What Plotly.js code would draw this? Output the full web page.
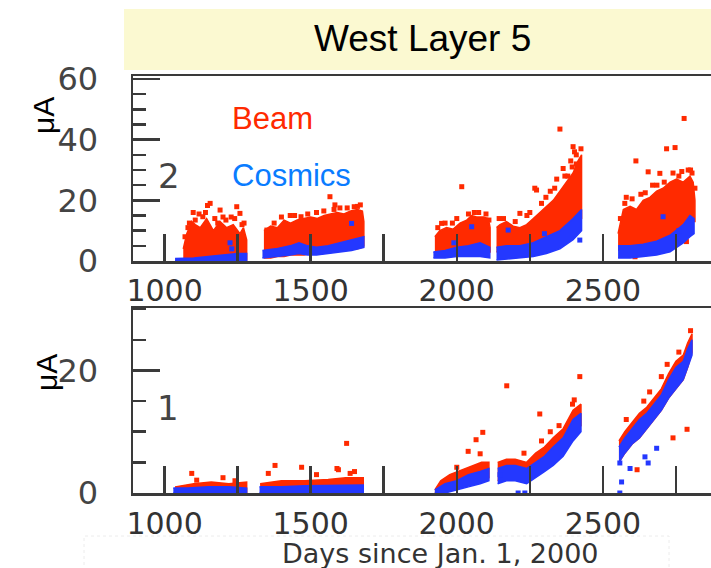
<!DOCTYPE html>
<html><head><meta charset="utf-8">
<script src="https://cdn.plot.ly/plotly-3.0.1.min.js"></script>
<style>html,body{margin:0;padding:0;background:#fff}#chart{width:711px;height:568px}</style>
</head><body><div id="chart"></div>
<script>
// ---------- axis ticks ----------
const xTickVals = [1000,1250,1500,1750,2000,2250,2500,2750];
const xTickText = ['1000','','1500','','2000','','2500',''];

// ---------- panel 2 (top) : Beam dense bands ----------
const p2BeamA_day = [1064,1076,1093,1105,1122,1144,1167,1190,1212,1235,1258,1270,1281];
const p2BeamA_hi  = [4,9,13,12,11,14,10,13,11,12,9,11,7];
const p2BeamA_lo  = [0.3,0.3,0.3,0.3,0.3,0.3,0.3,0.3,0.3,0.3,0.3,0.3,0.3];
const p2BeamB_day = [1340,1363,1386,1409,1431,1454,1477,1500,1523,1546,1568,1591,1614,1637,1660,1677,1682];
const p2BeamB_hi  = [10,11.5,11,13.5,12.5,13.5,14,14.5,14,15,15.5,16,15.5,16.5,17,16.5,13];
const p2BeamB_lo  = [1,1,1.5,1.5,2,2,2,2.5,2.5,3,3,3.5,3.5,4,4,4.5,5];
const p2BeamC_day = [1925,1942,1965,1988,2011,2034,2051,2068,2091,2108,2114];
const p2BeamC_hi  = [8,10,11,10.5,12.5,13.5,15,14.5,14.5,14,11];
const p2BeamC_lo  = [2.5,2.5,2.5,2.5,3,3,3,3,3,3,3];
const p2BeamD_day = [2136,2148,2170,2193,2216,2239,2262,2284,2307,2330,2353,2375,2398,2415,2427];
const p2BeamD_hi  = [11,12,13,11.5,11,12,14,16,18,20,23,26,29,33,35];
const p2BeamD_lo  = [3,3,3,3,3.5,4,4.5,5,5.5,6,7,8,10,12,14];
const p2BeamE_day = [2552,2570,2593,2615,2638,2661,2684,2706,2730,2752,2775,2798,2809,2815];
const p2BeamE_hi  = [9,17,18,17,20,21,23,24,26,27,26,28,26,20];
const p2BeamE_lo  = [3.5,4,4.5,5,5,5.5,6,7,8,9,10.5,12,13,13];
// Beam scattered points (top)
const p2BeamPts_day = [1156,1147,1247,1131,1105,1190,1258,1080,1118,1172,1210,1228,1272,1098,1070,1085,1140,1182,1200,1240,1265,
  1566,1583,1467,1649,1350,1400,1430,1520,1600,1670,1625,1375,1445,1490,1545,1580,1660,
  2017,1948,2000,2040,2075,2100,1935,1960,1985,2060,2110,
  2398,2403,2409,2364,2342,2273,2267,2216,2409,2353,2420,2390,2320,2290,2250,2160,2380,2200,2240,2305,2335,2370,2395,2425,2145,
  2613,2655,2695,2718,2747,2778,2792,2786,2610,2580,2630,2670,2740,2770,2805,2600,2560,2575,2645,2685,2710,2760,2800,2815];
const p2BeamPts_val = [19,18.3,17.9,14.6,13.5,16.8,15.7,11,15.5,14,13.5,14.5,12.5,16,8,12.5,16,12.5,14.5,14,12,
  21.2,18.5,14.6,17.9,10.2,14.5,15,16,17.5,18.5,17.5,12.5,15,15.5,16.5,17,18,
  24.5,12.4,14,15.5,16,15.5,11,12.5,12.5,16,13.5,
  37.7,36,35,30.5,27,23.4,24,15.7,32,43.5,30,33,23,19,16,14,28,13,15,21,24,28,31,37,14,
  33,29.4,28.9,37,37.4,47,30,6.4,1.4,21,22,25,29,29.5,29,20.5,14,19,22.5,25,26,28,30,24];

// ---------- panel 2 (top) : Cosmics dense bands ----------
const p2CosA_day = [1036,1100,1150,1200,1250,1281];
const p2CosA_hi  = [0.8,1,1.5,2,2.5,2.5];
const p2CosA_lo  = [0,0,0,0,0,0];
const p2CosB_day = [1335,1380,1430,1460,1490,1520,1560,1600,1640,1682];
const p2CosB_hi  = [3.5,4,5,6,5,4.5,5,6,7,8];
const p2CosB_lo  = [1,1.5,2,2.5,2,2,2.5,3,3.5,4.5];
const p2CosC_day = [1920,1960,2000,2040,2080,2113];
const p2CosC_hi  = [3,3.5,4.5,5,6,4.5];
const p2CosC_lo  = [1,1,1.5,1.5,1.5,1];
const p2CosD_day = [2136,2170,2216,2262,2307,2353,2398,2427];
const p2CosD_hi  = [4.5,5,5,6,8,10,14,17];
const p2CosD_lo  = [0.3,0.5,1,1.5,2.5,4,7,10];
const p2CosE_day = [2552,2593,2638,2684,2730,2775,2798,2812];
const p2CosE_hi  = [5,5,5.5,6.5,8.5,12,15,14];
const p2CosE_lo  = [1,1,1.5,2,3,6,8,9];
const p2CosPts_day = [1224,2051,2176,2421,2706,1640,1230,2760,2300,1990];
const p2CosPts_val = [6,11.3,10.2,6.9,14.6,12.4,4,10,9,6];

// ---------- panel 1 (bottom) : Beam dense bands ----------
const p1BeamA_day = [1036,1100,1160,1220,1281];
const p1BeamA_hi  = [1,1.5,1.8,1.5,1.8];
const p1BeamA_lo  = [0,0,0,0,0];
const p1BeamB_day = [1327,1400,1480,1560,1620,1680];
const p1BeamB_hi  = [1.5,2,2,2.2,2.5,2.5];
const p1BeamB_lo  = [0,0,0,0,0,0];
const p1BeamC_day = [1925,1945,1976,2005,2034,2060,2085,2110];
const p1BeamC_hi  = [0.5,2,3,3.5,4,4.5,5,5];
const p1BeamC_lo  = [0,0,0.5,1,1.5,2,2,2.5];
const p1BeamD_day = [2140,2170,2200,2239,2270,2300,2330,2364,2398,2425];
const p1BeamD_hi  = [5,5.5,5.5,5,6.5,7.5,9,10.5,13.5,14.5];
const p1BeamD_lo  = [2,2.5,2.5,2,3,4,5,7,9.5,11];
const p1BeamE_day = [2555,2575,2600,2625,2650,2675,2700,2725,2750,2775,2790,2805];
const p1BeamE_hi  = [8.5,10,11.5,13,14,15.5,17,19.5,21.5,22.5,24.5,26];
const p1BeamE_lo  = [5,6.5,8,9,10.5,12,13.5,15.5,17,18.5,20.5,23];
const p1BeamPts_day = [1093,1110,1241,1355,1378,1469,1595,1623,1590,1635,1200,1520,1650,
  2039,2066,2089,2080,2000,2171,2284,2421,2396,2402,2230,2320,2350,2290,
  2740,2788,2617,2580,2640,2700,2760,2800,2720,2660];
const p1BeamPts_val = [3.2,2.1,2,3.2,4.5,4.2,3.8,8.1,4,3.2,2.5,3,3.5,
  6.8,8.7,9.9,6.4,4.2,17.5,12.9,19,14.5,15.2,6.5,10,11,8.5,
  9,10.4,3.8,12,15,19,23,26.5,21,16.5];

// ---------- panel 1 (bottom) : Cosmics dense bands ----------
const p1CosA_day = [1030,1080,1150,1220,1281];
const p1CosA_hi  = [0.8,0.8,1,1,0.8];
const p1CosA_lo  = [0,0,0,0,0];
const p1CosB_day = [1325,1400,1480,1560,1620,1680];
const p1CosB_hi  = [1,1,1.2,1.2,1.3,1.3];
const p1CosB_lo  = [0,0,0,0,0,0];
const p1CosC_day = [1925,1960,2000,2040,2080,2110];
const p1CosC_hi  = [0.5,1.5,2,3,3.5,4];
const p1CosC_lo  = [0,0,0.5,1,1.5,2];
const p1CosD_day = [2140,2170,2200,2239,2270,2300,2330,2364,2398,2425];
const p1CosD_hi  = [4,4.5,4.5,4,5,6,7.5,9,12,13];
const p1CosD_lo  = [1.5,2,2,1.5,2.5,3.5,4.5,6,8.5,10];
const p1CosE_day = [2555,2575,2600,2625,2650,2675,2700,2725,2750,2775,2790,2805];
const p1CosE_hi  = [7.5,9,10.5,12,13,14.5,16,18.5,20.5,21.5,23.5,25];
const p1CosE_lo  = [5,6.5,8,9,10.5,12,13.5,15.5,17,18.5,20.5,22.5];
const p1CosPts_day = [2558,2564,2558,2644,2684,2593,2655,2210,2233,2148];
const p1CosPts_val = [4.9,1.8,0,5.9,7.3,4,4.9,0,0,3];

// ---------- styling ----------
const RED = '#ff2a00', BLUE = '#2438ff';
const RED_TXT = '#ff2a00', BLUE_TXT = '#0a7cff';
const W = 711, H = 568;
const px = v => v / W, py = v => 1 - v / H;

function band(day, hi, lo, color, xa, ya) {
  return {x: day.concat(day.slice().reverse()), y: hi.concat(lo.slice().reverse()),
    xaxis: xa, yaxis: ya, mode: 'lines', fill: 'toself', fillcolor: color,
    line: {color: color, width: 1.5}, hoverinfo: 'skip', showlegend: false};
}
function pts(day, val, color, xa, ya) {
  return {x: day, y: val, xaxis: xa, yaxis: ya, mode: 'markers', type: 'scatter',
    marker: {color: color, size: 5, symbol: 'square'}, hoverinfo: 'skip', showlegend: false};
}

const traces = [
  band(p2BeamA_day, p2BeamA_hi, p2BeamA_lo, RED, 'x2', 'y2'),
  band(p2BeamB_day, p2BeamB_hi, p2BeamB_lo, RED, 'x2', 'y2'),
  band(p2BeamC_day, p2BeamC_hi, p2BeamC_lo, RED, 'x2', 'y2'),
  band(p2BeamD_day, p2BeamD_hi, p2BeamD_lo, RED, 'x2', 'y2'),
  band(p2BeamE_day, p2BeamE_hi, p2BeamE_lo, RED, 'x2', 'y2'),
  pts(p2BeamPts_day, p2BeamPts_val, RED, 'x2', 'y2'),
  band(p2CosA_day, p2CosA_hi, p2CosA_lo, BLUE, 'x2', 'y2'),
  band(p2CosB_day, p2CosB_hi, p2CosB_lo, BLUE, 'x2', 'y2'),
  band(p2CosC_day, p2CosC_hi, p2CosC_lo, BLUE, 'x2', 'y2'),
  band(p2CosD_day, p2CosD_hi, p2CosD_lo, BLUE, 'x2', 'y2'),
  band(p2CosE_day, p2CosE_hi, p2CosE_lo, BLUE, 'x2', 'y2'),
  pts(p2CosPts_day, p2CosPts_val, BLUE, 'x2', 'y2'),

  band(p1BeamA_day, p1BeamA_hi, p1BeamA_lo, RED, 'x', 'y'),
  band(p1BeamB_day, p1BeamB_hi, p1BeamB_lo, RED, 'x', 'y'),
  band(p1BeamC_day, p1BeamC_hi, p1BeamC_lo, RED, 'x', 'y'),
  band(p1BeamD_day, p1BeamD_hi, p1BeamD_lo, RED, 'x', 'y'),
  band(p1BeamE_day, p1BeamE_hi, p1BeamE_lo, RED, 'x', 'y'),
  band(p1CosA_day, p1CosA_hi, p1CosA_lo, BLUE, 'x', 'y'),
  band(p1CosB_day, p1CosB_hi, p1CosB_lo, BLUE, 'x', 'y'),
  band(p1CosC_day, p1CosC_hi, p1CosC_lo, BLUE, 'x', 'y'),
  band(p1CosD_day, p1CosD_hi, p1CosD_lo, BLUE, 'x', 'y'),
  band(p1CosE_day, p1CosE_hi, p1CosE_lo, BLUE, 'x', 'y'),
  pts(p1BeamPts_day, p1BeamPts_val, RED, 'x', 'y'),
  pts(p1CosPts_day, p1CosPts_val, BLUE, 'x', 'y')
];

const AX = '#3a3a3a';
const tickFont = {family: 'DejaVu Sans', size: 30, color: '#333'};
const xCommon = {range: [892, 2870], tickmode: 'array', tickvals: xTickVals, ticktext: xTickText,
  ticks: 'inside', ticklen: 27, tickwidth: 2.5, tickcolor: AX,
  showline: true, linewidth: 2.5, linecolor: AX, mirror: true,
  showgrid: false, zeroline: false, tickfont: tickFont, fixedrange: true};
const yCommon = {ticks: 'inside', ticklen: 27, tickwidth: 2.5, tickcolor: AX,
  showline: true, linewidth: 2.5, linecolor: AX, mirror: true,
  showgrid: false, zeroline: false, tickfont: {family: 'DejaVu Sans', size: 32, color: '#444'},
  ticklabelstandoff: 26, fixedrange: true,
  minor: {dtick: 5, tick0: 0, ticks: 'inside', ticklen: 13, tickwidth: 2.5, tickcolor: AX, showgrid: false}};

const layout = {
  width: W, height: H, margin: {l: 0, r: 0, t: 0, b: 0},
  paper_bgcolor: '#fff', plot_bgcolor: '#fff', showlegend: false,
  xaxis: Object.assign({}, xCommon, {domain: [px(133), 1], anchor: 'y', ticklabelstandoff: 2}),
  xaxis2: Object.assign({}, xCommon, {domain: [px(133), 1], anchor: 'y2', ticklabelstandoff: 1}),
  yaxis: Object.assign({}, yCommon, {domain: [1 - 493/H, 1 - 308/H], anchor: 'x',
    range: [0, 30.2], tickmode: 'linear', tick0: 0, dtick: 20}),
  yaxis2: Object.assign({}, yCommon, {domain: [1 - 261/H, 1 - 76/H], anchor: 'x2',
    range: [0, 61], tickmode: 'linear', tick0: 0, dtick: 20}),
  shapes: [
    {type: 'rect', xref: 'paper', yref: 'paper', x0: px(124), x1: 1, y0: py(70), y1: py(9),
     fillcolor: '#fbf9d1', line: {width: 0}, layer: 'above'},
    {type: 'rect', xref: 'paper', yref: 'paper', x0: px(84), x1: px(669), y0: py(600), y1: py(536),
     fillcolor: 'rgba(0,0,0,0)', line: {width: 1, color: '#ececec', dash: 'dot'}, layer: 'below'}
  ],
  annotations: [
    {text: 'West Layer 5', xref: 'paper', yref: 'paper', x: px(422), y: py(39),
     xanchor: 'center', yanchor: 'middle', showarrow: false,
     font: {family: 'Liberation Sans, Arial', size: 37, color: '#000'}},
    {text: 'Beam', xref: 'paper', yref: 'paper', x: px(230), y: py(118),
     xanchor: 'left', yanchor: 'middle', showarrow: false,
     font: {family: 'Liberation Sans, Arial', size: 31, color: RED_TXT}},
    {text: 'Cosmics', xref: 'paper', yref: 'paper', x: px(230), y: py(175),
     xanchor: 'left', yanchor: 'middle', showarrow: false,
     font: {family: 'Liberation Sans, Arial', size: 31, color: BLUE_TXT}},
    {text: 'μA', xref: 'paper', yref: 'paper', x: px(44), y: py(116), textangle: -90,
     xanchor: 'center', yanchor: 'middle', showarrow: false,
     font: {family: 'Liberation Sans, Arial', size: 30, color: '#000'}},
    {text: 'μA', xref: 'paper', yref: 'paper', x: px(46), y: py(373), textangle: -90,
     xanchor: 'center', yanchor: 'middle', showarrow: false,
     font: {family: 'Liberation Sans, Arial', size: 30, color: '#000'}},
    {text: '2', xref: 'paper', yref: 'paper', x: px(169), y: py(176),
     xanchor: 'center', yanchor: 'middle', showarrow: false,
     font: {family: 'DejaVu Sans', size: 34, color: '#444'}},
    {text: '1', xref: 'paper', yref: 'paper', x: px(168), y: py(408),
     xanchor: 'center', yanchor: 'middle', showarrow: false,
     font: {family: 'DejaVu Sans', size: 34, color: '#444'}},
    {text: 'Days since Jan. 1, 2000', xref: 'paper', yref: 'paper', x: px(440), y: py(553),
     xanchor: 'center', yanchor: 'middle', showarrow: false,
     font: {family: 'DejaVu Sans', size: 27, color: '#333'}}
  ]
};

Plotly.newPlot('chart', traces, layout, {displayModeBar: false, staticPlot: true});
</script></body></html>
